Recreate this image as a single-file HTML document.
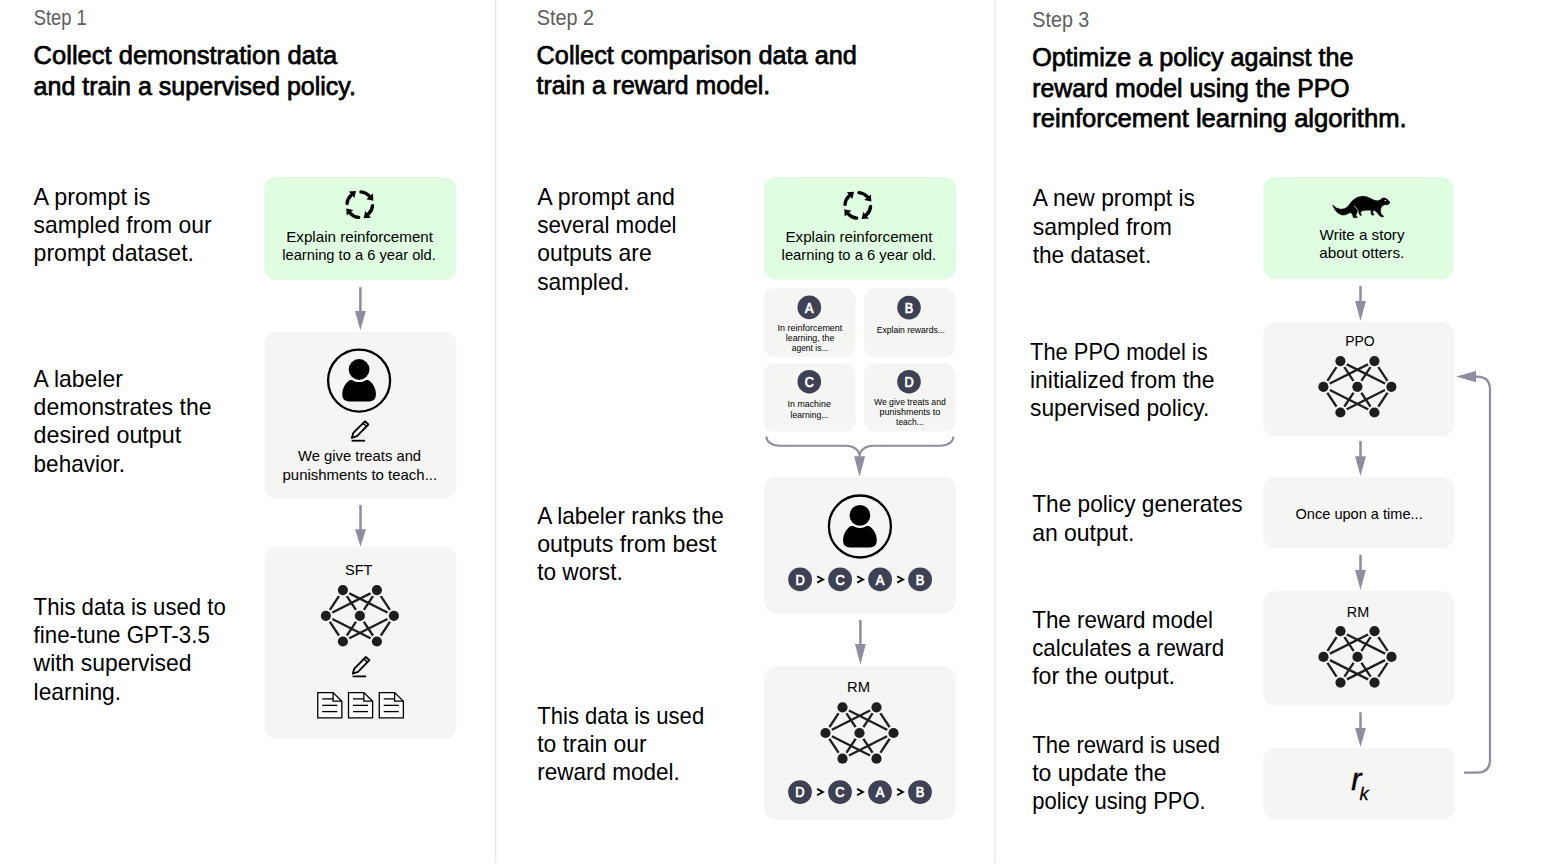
<!DOCTYPE html><html><head><meta charset="utf-8"><title>ChatGPT training diagram</title><style>html,body{margin:0;padding:0;background:#fff;overflow:hidden}svg{display:block}text{font-family:"Liberation Sans",sans-serif}</style></head><body>
<svg width="1563" height="865" viewBox="0 0 1563 865">
<rect width="1563" height="865" fill="#fff"/>
<rect x="494.8" y="0" width="1.5" height="863" fill="#e6e6e6"/>
<rect x="994.1" y="0" width="1.8" height="863" fill="#ececec"/>
<text x="33.80" y="24.90" font-size="21.5" fill="#5e5e5e" textLength="53.00" lengthAdjust="spacingAndGlyphs">Step 1</text>
<text x="536.80" y="25.00" font-size="21.5" fill="#5e5e5e" textLength="57.30" lengthAdjust="spacingAndGlyphs">Step 2</text>
<text x="1032.30" y="26.80" font-size="21.5" fill="#5e5e5e" textLength="57.00" lengthAdjust="spacingAndGlyphs">Step 3</text>
<text x="33.60" y="64.20" font-size="26.5" textLength="303.60" lengthAdjust="spacingAndGlyphs" stroke="#000" stroke-width="0.75">Collect demonstration data</text>
<text x="33.60" y="94.80" font-size="26.5" textLength="322.40" lengthAdjust="spacingAndGlyphs" stroke="#000" stroke-width="0.75">and train a supervised policy.</text>
<text x="536.60" y="63.80" font-size="26.5" textLength="320.20" lengthAdjust="spacingAndGlyphs" stroke="#000" stroke-width="0.75">Collect comparison data and</text>
<text x="536.60" y="94.00" font-size="26.5" textLength="233.60" lengthAdjust="spacingAndGlyphs" stroke="#000" stroke-width="0.75">train a reward model.</text>
<text x="1032.20" y="66.00" font-size="26.5" textLength="321.20" lengthAdjust="spacingAndGlyphs" stroke="#000" stroke-width="0.75">Optimize a policy against the</text>
<text x="1032.20" y="97.20" font-size="26.5" textLength="317.40" lengthAdjust="spacingAndGlyphs" stroke="#000" stroke-width="0.75">reward model using the PPO</text>
<text x="1032.20" y="127.40" font-size="26.5" textLength="374.40" lengthAdjust="spacingAndGlyphs" stroke="#000" stroke-width="0.75">reinforcement learning algorithm.</text>
<text x="33.60" y="205.00" font-size="23.4" textLength="116.70" lengthAdjust="spacingAndGlyphs">A prompt is</text>
<text x="33.60" y="233.20" font-size="23.4" textLength="177.90" lengthAdjust="spacingAndGlyphs">sampled from our</text>
<text x="33.60" y="261.40" font-size="23.4" textLength="160.40" lengthAdjust="spacingAndGlyphs">prompt dataset.</text>
<text x="33.60" y="386.70" font-size="23.4" textLength="89.20" lengthAdjust="spacingAndGlyphs">A labeler</text>
<text x="33.60" y="414.90" font-size="23.4" textLength="177.90" lengthAdjust="spacingAndGlyphs">demonstrates the</text>
<text x="33.60" y="443.00" font-size="23.4" textLength="147.60" lengthAdjust="spacingAndGlyphs">desired output</text>
<text x="33.60" y="471.50" font-size="23.4" textLength="91.40" lengthAdjust="spacingAndGlyphs">behavior.</text>
<text x="33.60" y="615.00" font-size="23.4" textLength="192.20" lengthAdjust="spacingAndGlyphs">This data is used to</text>
<text x="33.60" y="643.20" font-size="23.4" textLength="176.20" lengthAdjust="spacingAndGlyphs">fine-tune GPT-3.5</text>
<text x="33.60" y="671.40" font-size="23.4" textLength="157.90" lengthAdjust="spacingAndGlyphs">with supervised</text>
<text x="33.60" y="699.50" font-size="23.4" textLength="87.50" lengthAdjust="spacingAndGlyphs">learning.</text>
<text x="537.20" y="205.00" font-size="23.4" textLength="137.70" lengthAdjust="spacingAndGlyphs">A prompt and</text>
<text x="537.20" y="233.20" font-size="23.4" textLength="139.40" lengthAdjust="spacingAndGlyphs">several model</text>
<text x="537.20" y="261.40" font-size="23.4" textLength="114.50" lengthAdjust="spacingAndGlyphs">outputs are</text>
<text x="537.20" y="289.50" font-size="23.4" textLength="92.40" lengthAdjust="spacingAndGlyphs">sampled.</text>
<text x="537.20" y="523.90" font-size="23.4" textLength="186.70" lengthAdjust="spacingAndGlyphs">A labeler ranks the</text>
<text x="537.20" y="552.00" font-size="23.4" textLength="179.20" lengthAdjust="spacingAndGlyphs">outputs from best</text>
<text x="537.20" y="580.20" font-size="23.4" textLength="85.60" lengthAdjust="spacingAndGlyphs">to worst.</text>
<text x="537.20" y="723.90" font-size="23.4" textLength="167.00" lengthAdjust="spacingAndGlyphs">This data is used</text>
<text x="537.20" y="752.00" font-size="23.4" textLength="109.50" lengthAdjust="spacingAndGlyphs">to train our</text>
<text x="537.20" y="780.20" font-size="23.4" textLength="142.60" lengthAdjust="spacingAndGlyphs">reward model.</text>
<text x="1032.70" y="206.40" font-size="23.4" textLength="162.30" lengthAdjust="spacingAndGlyphs">A new prompt is</text>
<text x="1032.70" y="234.50" font-size="23.4" textLength="139.20" lengthAdjust="spacingAndGlyphs">sampled from</text>
<text x="1032.70" y="262.60" font-size="23.4" textLength="118.50" lengthAdjust="spacingAndGlyphs">the dataset.</text>
<text x="1030.00" y="359.60" font-size="23.4" textLength="177.70" lengthAdjust="spacingAndGlyphs">The PPO model is</text>
<text x="1030.00" y="388.00" font-size="23.4" textLength="184.50" lengthAdjust="spacingAndGlyphs">initialized from the</text>
<text x="1030.00" y="416.10" font-size="23.4" textLength="179.30" lengthAdjust="spacingAndGlyphs">supervised policy.</text>
<text x="1032.20" y="512.30" font-size="23.4" textLength="210.50" lengthAdjust="spacingAndGlyphs">The policy generates</text>
<text x="1032.20" y="540.60" font-size="23.4" textLength="102.10" lengthAdjust="spacingAndGlyphs">an output.</text>
<text x="1032.20" y="627.60" font-size="23.4" textLength="180.70" lengthAdjust="spacingAndGlyphs">The reward model</text>
<text x="1032.20" y="655.60" font-size="23.4" textLength="192.00" lengthAdjust="spacingAndGlyphs">calculates a reward</text>
<text x="1032.20" y="683.70" font-size="23.4" textLength="142.80" lengthAdjust="spacingAndGlyphs">for the output.</text>
<text x="1032.20" y="753.00" font-size="23.4" textLength="187.90" lengthAdjust="spacingAndGlyphs">The reward is used</text>
<text x="1032.20" y="781.00" font-size="23.4" textLength="134.40" lengthAdjust="spacingAndGlyphs">to update the</text>
<text x="1032.20" y="809.20" font-size="23.4" textLength="173.50" lengthAdjust="spacingAndGlyphs">policy using PPO.</text>
<rect x="264.20" y="177.00" width="192.30" height="102.80" rx="12" fill="#dffde1"/>
<g transform="translate(359.8,204.6)">
<g transform="rotate(0)">
<path d="M1.12,-12.75 A12.8,12.8 0 0 1 9.42,-8.69" fill="none" stroke="#000" stroke-width="3.4" stroke-linecap="round"/>
<path d="M13.10,-10.99 L13.53,-3.78 L6.51,-5.46 Z" fill="#000"/>
</g>
<g transform="rotate(90)">
<path d="M1.12,-12.75 A12.8,12.8 0 0 1 9.42,-8.69" fill="none" stroke="#000" stroke-width="3.4" stroke-linecap="round"/>
<path d="M13.10,-10.99 L13.53,-3.78 L6.51,-5.46 Z" fill="#000"/>
</g>
<g transform="rotate(180)">
<path d="M1.12,-12.75 A12.8,12.8 0 0 1 9.42,-8.69" fill="none" stroke="#000" stroke-width="3.4" stroke-linecap="round"/>
<path d="M13.10,-10.99 L13.53,-3.78 L6.51,-5.46 Z" fill="#000"/>
</g>
<g transform="rotate(270)">
<path d="M1.12,-12.75 A12.8,12.8 0 0 1 9.42,-8.69" fill="none" stroke="#000" stroke-width="3.4" stroke-linecap="round"/>
<path d="M13.10,-10.99 L13.53,-3.78 L6.51,-5.46 Z" fill="#000"/>
</g>
</g>
<text x="286.20" y="242.20" font-size="15.0" textLength="146.80" lengthAdjust="spacingAndGlyphs">Explain reinforcement</text>
<text x="282.20" y="259.70" font-size="15.0" textLength="153.70" lengthAdjust="spacingAndGlyphs">learning to a 6 year old.</text>
<line x1="360.4" y1="287.2" x2="360.4" y2="312.1" stroke="#8e8da2" stroke-width="2.5"/>
<path d="M355.0,311.1 L365.79999999999995,311.1 L360.4,330.6 Z" fill="#8e8da2"/>
<rect x="264.20" y="332.00" width="192.30" height="166.30" rx="12" fill="#f5f5f3"/>
<circle cx="359.1" cy="380.6" r="31" fill="none" stroke="#000" stroke-width="2.3"/>
<path d="M350.1,380.1 C345.6,382.6 342.3,388.1 342.3,394.6 C342.3,400.6 346.1,401.6 351.1,401.6 L367.1,401.6 C372.1,401.6 375.90000000000003,400.6 375.90000000000003,394.6 C375.90000000000003,388.1 372.6,382.6 368.1,380.1 Z" fill="#000"/>
<circle cx="359.1" cy="369.5" r="12.6" fill="#f5f5f3"/>
<circle cx="359.1" cy="369.5" r="10.4" fill="#000"/>
<path d="M351.80,437.90 L353.30,432.90 L364.90,421.30 L368.40,424.50 L357.00,436.20 Z" fill="none" stroke="#000" stroke-width="1.85" stroke-linejoin="round"/>
<line x1="363.00" y1="423.20" x2="366.40" y2="426.50" stroke="#000" stroke-width="1.4"/>
<line x1="351.60" y1="440.70" x2="365.10" y2="440.70" stroke="#000" stroke-width="1.8"/>
<text x="298.10" y="461.40" font-size="15.0" textLength="123.00" lengthAdjust="spacingAndGlyphs">We give treats and</text>
<text x="282.50" y="479.60" font-size="15.0" textLength="154.60" lengthAdjust="spacingAndGlyphs">punishments to teach...</text>
<line x1="360.5" y1="504.9" x2="360.5" y2="530.2" stroke="#8e8da2" stroke-width="2.5"/>
<path d="M355.1,529.2 L365.9,529.2 L360.5,546.8 Z" fill="#8e8da2"/>
<rect x="264.20" y="546.70" width="192.30" height="192.10" rx="12" fill="#f5f5f3"/>
<text x="345.00" y="575.20" font-size="15.5" textLength="27.40" lengthAdjust="spacingAndGlyphs">SFT</text>
<g>
<line x1="342.90" y1="590.10" x2="325.90" y2="615.80" stroke="#1e1e1e" stroke-width="2.3"/>
<line x1="342.90" y1="590.10" x2="359.90" y2="615.80" stroke="#1e1e1e" stroke-width="2.3"/>
<line x1="342.90" y1="590.10" x2="393.90" y2="615.80" stroke="#1e1e1e" stroke-width="2.3"/>
<line x1="376.90" y1="590.10" x2="325.90" y2="615.80" stroke="#1e1e1e" stroke-width="2.3"/>
<line x1="376.90" y1="590.10" x2="359.90" y2="615.80" stroke="#1e1e1e" stroke-width="2.3"/>
<line x1="376.90" y1="590.10" x2="393.90" y2="615.80" stroke="#1e1e1e" stroke-width="2.3"/>
<line x1="325.90" y1="615.80" x2="342.90" y2="641.50" stroke="#1e1e1e" stroke-width="2.3"/>
<line x1="325.90" y1="615.80" x2="376.90" y2="641.50" stroke="#1e1e1e" stroke-width="2.3"/>
<line x1="359.90" y1="615.80" x2="342.90" y2="641.50" stroke="#1e1e1e" stroke-width="2.3"/>
<line x1="359.90" y1="615.80" x2="376.90" y2="641.50" stroke="#1e1e1e" stroke-width="2.3"/>
<line x1="393.90" y1="615.80" x2="342.90" y2="641.50" stroke="#1e1e1e" stroke-width="2.3"/>
<line x1="393.90" y1="615.80" x2="376.90" y2="641.50" stroke="#1e1e1e" stroke-width="2.3"/>
<circle cx="342.90" cy="590.10" r="7.2" fill="#f5f5f3"/>
<circle cx="342.90" cy="590.10" r="5.1" fill="#1e1e1e"/>
<circle cx="376.90" cy="590.10" r="7.2" fill="#f5f5f3"/>
<circle cx="376.90" cy="590.10" r="5.1" fill="#1e1e1e"/>
<circle cx="325.90" cy="615.80" r="7.2" fill="#f5f5f3"/>
<circle cx="325.90" cy="615.80" r="5.1" fill="#1e1e1e"/>
<circle cx="359.90" cy="615.80" r="7.2" fill="#f5f5f3"/>
<circle cx="359.90" cy="615.80" r="5.1" fill="#1e1e1e"/>
<circle cx="393.90" cy="615.80" r="7.2" fill="#f5f5f3"/>
<circle cx="393.90" cy="615.80" r="5.1" fill="#1e1e1e"/>
<circle cx="342.90" cy="641.50" r="7.2" fill="#f5f5f3"/>
<circle cx="342.90" cy="641.50" r="5.1" fill="#1e1e1e"/>
<circle cx="376.90" cy="641.50" r="7.2" fill="#f5f5f3"/>
<circle cx="376.90" cy="641.50" r="5.1" fill="#1e1e1e"/>
</g>
<path d="M352.80,673.60 L354.30,668.60 L365.90,657.00 L369.40,660.20 L358.00,671.90 Z" fill="none" stroke="#000" stroke-width="1.85" stroke-linejoin="round"/>
<line x1="364.00" y1="658.90" x2="367.40" y2="662.20" stroke="#000" stroke-width="1.4"/>
<line x1="352.60" y1="676.40" x2="366.10" y2="676.40" stroke="#000" stroke-width="1.8"/>
<path d="M317.75,692.55 L333.1,692.55 L341.85,701.1999999999999 L341.85,717.85 L317.75,717.85 Z" fill="#fbfbfb" stroke="#000" stroke-width="1.3" stroke-linejoin="miter"/>
<path d="M333.1,692.55 L333.1,701.1999999999999 L341.85,701.1999999999999" fill="none" stroke="#000" stroke-width="1.3"/>
<line x1="322.20000000000005" y1="698.9" x2="333.1" y2="698.9" stroke="#000" stroke-width="1.3"/>
<line x1="322.20000000000005" y1="705.35" x2="337.3" y2="705.35" stroke="#000" stroke-width="1.3"/>
<line x1="322.20000000000005" y1="711.6" x2="337.3" y2="711.6" stroke="#000" stroke-width="1.3"/>
<path d="M348.51,692.55 L363.86,692.55 L372.61,701.1999999999999 L372.61,717.85 L348.51,717.85 Z" fill="#fbfbfb" stroke="#000" stroke-width="1.3" stroke-linejoin="miter"/>
<path d="M363.86,692.55 L363.86,701.1999999999999 L372.61,701.1999999999999" fill="none" stroke="#000" stroke-width="1.3"/>
<line x1="352.96000000000004" y1="698.9" x2="363.86" y2="698.9" stroke="#000" stroke-width="1.3"/>
<line x1="352.96000000000004" y1="705.35" x2="368.06" y2="705.35" stroke="#000" stroke-width="1.3"/>
<line x1="352.96000000000004" y1="711.6" x2="368.06" y2="711.6" stroke="#000" stroke-width="1.3"/>
<path d="M379.27,692.55 L394.62,692.55 L403.37,701.1999999999999 L403.37,717.85 L379.27,717.85 Z" fill="#fbfbfb" stroke="#000" stroke-width="1.3" stroke-linejoin="miter"/>
<path d="M394.62,692.55 L394.62,701.1999999999999 L403.37,701.1999999999999" fill="none" stroke="#000" stroke-width="1.3"/>
<line x1="383.72" y1="698.9" x2="394.62" y2="698.9" stroke="#000" stroke-width="1.3"/>
<line x1="383.72" y1="705.35" x2="398.82" y2="705.35" stroke="#000" stroke-width="1.3"/>
<line x1="383.72" y1="711.6" x2="398.82" y2="711.6" stroke="#000" stroke-width="1.3"/>
<rect x="764.20" y="177.00" width="191.80" height="102.50" rx="12" fill="#dffde1"/>
<g transform="translate(857.8,205.4)">
<g transform="rotate(0)">
<path d="M1.12,-12.75 A12.8,12.8 0 0 1 9.42,-8.69" fill="none" stroke="#000" stroke-width="3.4" stroke-linecap="round"/>
<path d="M13.10,-10.99 L13.53,-3.78 L6.51,-5.46 Z" fill="#000"/>
</g>
<g transform="rotate(90)">
<path d="M1.12,-12.75 A12.8,12.8 0 0 1 9.42,-8.69" fill="none" stroke="#000" stroke-width="3.4" stroke-linecap="round"/>
<path d="M13.10,-10.99 L13.53,-3.78 L6.51,-5.46 Z" fill="#000"/>
</g>
<g transform="rotate(180)">
<path d="M1.12,-12.75 A12.8,12.8 0 0 1 9.42,-8.69" fill="none" stroke="#000" stroke-width="3.4" stroke-linecap="round"/>
<path d="M13.10,-10.99 L13.53,-3.78 L6.51,-5.46 Z" fill="#000"/>
</g>
<g transform="rotate(270)">
<path d="M1.12,-12.75 A12.8,12.8 0 0 1 9.42,-8.69" fill="none" stroke="#000" stroke-width="3.4" stroke-linecap="round"/>
<path d="M13.10,-10.99 L13.53,-3.78 L6.51,-5.46 Z" fill="#000"/>
</g>
</g>
<text x="785.40" y="242.20" font-size="15.0" textLength="147.00" lengthAdjust="spacingAndGlyphs">Explain reinforcement</text>
<text x="781.60" y="259.70" font-size="15.0" textLength="154.40" lengthAdjust="spacingAndGlyphs">learning to a 6 year old.</text>
<rect x="763.70" y="288.30" width="92.00" height="69.00" rx="11" fill="#f5f5f3"/>
<rect x="864.00" y="288.30" width="91.60" height="69.00" rx="11" fill="#f5f5f3"/>
<rect x="763.70" y="363.20" width="92.00" height="68.40" rx="11" fill="#f5f5f3"/>
<rect x="864.00" y="363.20" width="91.60" height="68.40" rx="11" fill="#f5f5f3"/>
<circle cx="809.3" cy="307.4" r="11.8" fill="#3e4154"/>
<g transform="translate(809.3,312.5) scale(0.88,1)"><text x="0" y="0" font-size="14.4" fill="#fff" text-anchor="middle" stroke="#fff" stroke-width="0.75">A</text></g>
<circle cx="909.0" cy="307.6" r="11.8" fill="#3e4154"/>
<g transform="translate(909.0,312.70000000000005) scale(0.88,1)"><text x="0" y="0" font-size="14.4" fill="#fff" text-anchor="middle" stroke="#fff" stroke-width="0.75">B</text></g>
<circle cx="809.3" cy="381.7" r="11.8" fill="#3e4154"/>
<g transform="translate(809.3,386.8) scale(0.88,1)"><text x="0" y="0" font-size="14.4" fill="#fff" text-anchor="middle" stroke="#fff" stroke-width="0.75">C</text></g>
<circle cx="909.0" cy="381.7" r="11.8" fill="#3e4154"/>
<g transform="translate(909.0,386.8) scale(0.88,1)"><text x="0" y="0" font-size="14.4" fill="#fff" text-anchor="middle" stroke="#fff" stroke-width="0.75">D</text></g>
<text x="777.60" y="330.60" font-size="9.0" textLength="64.70" lengthAdjust="spacingAndGlyphs">In reinforcement</text>
<text x="785.80" y="340.60" font-size="9.0" textLength="48.60" lengthAdjust="spacingAndGlyphs">learning, the</text>
<text x="791.70" y="350.60" font-size="9.0" textLength="36.80" lengthAdjust="spacingAndGlyphs">agent is...</text>
<text x="876.70" y="333.00" font-size="9.0" textLength="68.20" lengthAdjust="spacingAndGlyphs">Explain rewards...</text>
<text x="787.60" y="407.40" font-size="9.0" textLength="43.20" lengthAdjust="spacingAndGlyphs">In machine</text>
<text x="790.60" y="417.60" font-size="9.0" textLength="37.90" lengthAdjust="spacingAndGlyphs">learning...</text>
<text x="873.90" y="404.80" font-size="9.0" textLength="71.90" lengthAdjust="spacingAndGlyphs">We give treats and</text>
<text x="879.50" y="415.00" font-size="9.0" textLength="60.80" lengthAdjust="spacingAndGlyphs">punishments to</text>
<text x="896.10" y="425.20" font-size="9.0" textLength="27.50" lengthAdjust="spacingAndGlyphs">teach...</text>
<path d="M766.4,436.5 C766.6,442 772,445.8 779,445.8 L846.4,445.8 C853,445.8 859.6,450 859.6,456.5 C859.6,450 866,445.8 873,445.8 L940.6,445.8 C947.6,445.8 953.2,442 953.4,436.5" fill="none" stroke="#8e8da2" stroke-width="2.1"/>
<path d="M854.1,456.2 L865.1,456.2 L859.6,476.7 Z" fill="#8e8da2"/>
<rect x="764.10" y="476.70" width="191.80" height="136.80" rx="12" fill="#f5f5f3"/>
<circle cx="859.9" cy="526.5" r="31" fill="none" stroke="#000" stroke-width="2.3"/>
<path d="M850.9,526.0 C846.4,528.5 843.1,534.0 843.1,540.5 C843.1,546.5 846.9,547.5 851.9,547.5 L867.9,547.5 C872.9,547.5 876.6999999999999,546.5 876.6999999999999,540.5 C876.6999999999999,534.0 873.4,528.5 868.9,526.0 Z" fill="#000"/>
<circle cx="859.9" cy="515.4" r="12.6" fill="#f5f5f3"/>
<circle cx="859.9" cy="515.4" r="10.4" fill="#000"/>
<circle cx="800.1" cy="579.4" r="11.9" fill="#3e4154"/>
<g transform="translate(800.1,584.5) scale(0.88,1)"><text x="0" y="0" font-size="14.6" fill="#fff" text-anchor="middle" stroke="#fff" stroke-width="0.75">D</text></g>
<circle cx="840.1" cy="579.4" r="11.9" fill="#3e4154"/>
<g transform="translate(840.1,584.5) scale(0.88,1)"><text x="0" y="0" font-size="14.6" fill="#fff" text-anchor="middle" stroke="#fff" stroke-width="0.75">C</text></g>
<circle cx="880.1" cy="579.4" r="11.9" fill="#3e4154"/>
<g transform="translate(880.1,584.5) scale(0.88,1)"><text x="0" y="0" font-size="14.6" fill="#fff" text-anchor="middle" stroke="#fff" stroke-width="0.75">A</text></g>
<circle cx="920.1" cy="579.4" r="11.9" fill="#3e4154"/>
<g transform="translate(920.1,584.5) scale(0.88,1)"><text x="0" y="0" font-size="14.6" fill="#fff" text-anchor="middle" stroke="#fff" stroke-width="0.75">B</text></g>
<path d="M817.2,576.1999999999999 L823.1,579.4 L817.2,582.6" fill="none" stroke="#000" stroke-width="1.8"/>
<path d="M857.2,576.1999999999999 L863.1,579.4 L857.2,582.6" fill="none" stroke="#000" stroke-width="1.8"/>
<path d="M897.2,576.1999999999999 L903.1,579.4 L897.2,582.6" fill="none" stroke="#000" stroke-width="1.8"/>
<line x1="860.4" y1="620.0" x2="860.4" y2="645.1" stroke="#8e8da2" stroke-width="2.5"/>
<path d="M855.0,644.1 L865.8,644.1 L860.4,664.7 Z" fill="#8e8da2"/>
<rect x="764.10" y="665.90" width="191.70" height="153.90" rx="12" fill="#f5f5f3"/>
<text x="847.10" y="692.00" font-size="15.5" textLength="23.00" lengthAdjust="spacingAndGlyphs">RM</text>
<g>
<line x1="842.50" y1="707.30" x2="825.50" y2="733.00" stroke="#1e1e1e" stroke-width="2.3"/>
<line x1="842.50" y1="707.30" x2="859.50" y2="733.00" stroke="#1e1e1e" stroke-width="2.3"/>
<line x1="842.50" y1="707.30" x2="893.50" y2="733.00" stroke="#1e1e1e" stroke-width="2.3"/>
<line x1="876.50" y1="707.30" x2="825.50" y2="733.00" stroke="#1e1e1e" stroke-width="2.3"/>
<line x1="876.50" y1="707.30" x2="859.50" y2="733.00" stroke="#1e1e1e" stroke-width="2.3"/>
<line x1="876.50" y1="707.30" x2="893.50" y2="733.00" stroke="#1e1e1e" stroke-width="2.3"/>
<line x1="825.50" y1="733.00" x2="842.50" y2="758.70" stroke="#1e1e1e" stroke-width="2.3"/>
<line x1="825.50" y1="733.00" x2="876.50" y2="758.70" stroke="#1e1e1e" stroke-width="2.3"/>
<line x1="859.50" y1="733.00" x2="842.50" y2="758.70" stroke="#1e1e1e" stroke-width="2.3"/>
<line x1="859.50" y1="733.00" x2="876.50" y2="758.70" stroke="#1e1e1e" stroke-width="2.3"/>
<line x1="893.50" y1="733.00" x2="842.50" y2="758.70" stroke="#1e1e1e" stroke-width="2.3"/>
<line x1="893.50" y1="733.00" x2="876.50" y2="758.70" stroke="#1e1e1e" stroke-width="2.3"/>
<circle cx="842.50" cy="707.30" r="7.2" fill="#f5f5f3"/>
<circle cx="842.50" cy="707.30" r="5.1" fill="#1e1e1e"/>
<circle cx="876.50" cy="707.30" r="7.2" fill="#f5f5f3"/>
<circle cx="876.50" cy="707.30" r="5.1" fill="#1e1e1e"/>
<circle cx="825.50" cy="733.00" r="7.2" fill="#f5f5f3"/>
<circle cx="825.50" cy="733.00" r="5.1" fill="#1e1e1e"/>
<circle cx="859.50" cy="733.00" r="7.2" fill="#f5f5f3"/>
<circle cx="859.50" cy="733.00" r="5.1" fill="#1e1e1e"/>
<circle cx="893.50" cy="733.00" r="7.2" fill="#f5f5f3"/>
<circle cx="893.50" cy="733.00" r="5.1" fill="#1e1e1e"/>
<circle cx="842.50" cy="758.70" r="7.2" fill="#f5f5f3"/>
<circle cx="842.50" cy="758.70" r="5.1" fill="#1e1e1e"/>
<circle cx="876.50" cy="758.70" r="7.2" fill="#f5f5f3"/>
<circle cx="876.50" cy="758.70" r="5.1" fill="#1e1e1e"/>
</g>
<circle cx="800.0" cy="792.1" r="11.9" fill="#3e4154"/>
<g transform="translate(800.0,797.2) scale(0.88,1)"><text x="0" y="0" font-size="14.6" fill="#fff" text-anchor="middle" stroke="#fff" stroke-width="0.75">D</text></g>
<circle cx="840.0" cy="792.1" r="11.9" fill="#3e4154"/>
<g transform="translate(840.0,797.2) scale(0.88,1)"><text x="0" y="0" font-size="14.6" fill="#fff" text-anchor="middle" stroke="#fff" stroke-width="0.75">C</text></g>
<circle cx="880.0" cy="792.1" r="11.9" fill="#3e4154"/>
<g transform="translate(880.0,797.2) scale(0.88,1)"><text x="0" y="0" font-size="14.6" fill="#fff" text-anchor="middle" stroke="#fff" stroke-width="0.75">A</text></g>
<circle cx="920.0" cy="792.1" r="11.9" fill="#3e4154"/>
<g transform="translate(920.0,797.2) scale(0.88,1)"><text x="0" y="0" font-size="14.6" fill="#fff" text-anchor="middle" stroke="#fff" stroke-width="0.75">B</text></g>
<path d="M817.1,788.9 L823.0,792.1 L817.1,795.3000000000001" fill="none" stroke="#000" stroke-width="1.8"/>
<path d="M857.1,788.9 L863.0,792.1 L857.1,795.3000000000001" fill="none" stroke="#000" stroke-width="1.8"/>
<path d="M897.1,788.9 L903.0,792.1 L897.1,795.3000000000001" fill="none" stroke="#000" stroke-width="1.8"/>
<rect x="1263.30" y="177.00" width="190.70" height="102.30" rx="12" fill="#dffde1"/>
<path d="M1332.43,205.09 L1336.45,207.96 L1340.67,209.23 L1344.89,208.55 L1347.85,206.44 L1350.38,203.06 L1352.92,200.23 L1356.72,197.57 L1361.78,196.22 L1366.01,196.56 L1370.23,198.25 L1374.45,200.28 L1377.41,200.87 L1380.15,199.94 L1381.42,198.76 L1382.90,198.04 L1384.80,198.00 L1386.91,198.97 L1388.60,200.66 L1389.99,202.35 L1389.02,203.82 L1387.54,204.75 L1384.59,204.75 L1382.27,205.94 L1380.87,208.05 L1380.45,211.00 L1381.12,213.75 L1382.69,215.44 L1383.83,216.28 L1383.11,217.00 L1380.79,216.58 L1379.10,215.31 L1377.62,213.11 L1375.51,211.21 L1374.03,210.24 L1373.10,210.58 L1372.76,212.27 L1373.40,213.75 L1374.24,214.80 L1372.34,215.31 L1371.07,213.96 L1370.99,211.85 L1371.16,210.24 L1370.23,210.16 L1366.01,210.16 L1362.21,210.79 L1360.73,212.19 L1360.52,213.96 L1361.78,215.02 L1360.31,215.44 L1359.25,213.96 L1358.74,211.85 L1358.19,210.58 L1357.14,212.27 L1356.08,214.80 L1356.21,216.28 L1357.77,217.25 L1355.45,217.76 L1353.13,217.55 L1352.70,215.02 L1351.44,213.33 L1350.17,212.61 L1348.27,213.54 L1345.74,214.80 L1341.94,215.02 L1338.14,213.33 L1335.18,210.16 Z" fill="#000" stroke="#000" stroke-width="0.5" stroke-linejoin="round"/>
<path d="M1354.18,206.15 Q1357.56,208.47 1358.32,211.21" fill="none" stroke="#dffde1" stroke-width="0.7"/>
<circle cx="1385.31" cy="200.45" r="0.8" fill="#dffde1"/>
<text x="1319.60" y="239.80" font-size="15.0" textLength="84.90" lengthAdjust="spacingAndGlyphs">Write a story</text>
<text x="1319.30" y="257.60" font-size="15.0" textLength="85.00" lengthAdjust="spacingAndGlyphs">about otters.</text>
<line x1="1360.5" y1="286.0" x2="1360.5" y2="302.1" stroke="#8e8da2" stroke-width="2.5"/>
<path d="M1355.1,301.1 L1365.9,301.1 L1360.5,321.1 Z" fill="#8e8da2"/>
<rect x="1263.30" y="322.20" width="190.70" height="114.10" rx="12" fill="#f5f5f3"/>
<text x="1345.30" y="345.80" font-size="15.5" textLength="29.40" lengthAdjust="spacingAndGlyphs">PPO</text>
<g>
<line x1="1340.40" y1="361.10" x2="1323.40" y2="386.80" stroke="#1e1e1e" stroke-width="2.3"/>
<line x1="1340.40" y1="361.10" x2="1357.40" y2="386.80" stroke="#1e1e1e" stroke-width="2.3"/>
<line x1="1340.40" y1="361.10" x2="1391.40" y2="386.80" stroke="#1e1e1e" stroke-width="2.3"/>
<line x1="1374.40" y1="361.10" x2="1323.40" y2="386.80" stroke="#1e1e1e" stroke-width="2.3"/>
<line x1="1374.40" y1="361.10" x2="1357.40" y2="386.80" stroke="#1e1e1e" stroke-width="2.3"/>
<line x1="1374.40" y1="361.10" x2="1391.40" y2="386.80" stroke="#1e1e1e" stroke-width="2.3"/>
<line x1="1323.40" y1="386.80" x2="1340.40" y2="412.50" stroke="#1e1e1e" stroke-width="2.3"/>
<line x1="1323.40" y1="386.80" x2="1374.40" y2="412.50" stroke="#1e1e1e" stroke-width="2.3"/>
<line x1="1357.40" y1="386.80" x2="1340.40" y2="412.50" stroke="#1e1e1e" stroke-width="2.3"/>
<line x1="1357.40" y1="386.80" x2="1374.40" y2="412.50" stroke="#1e1e1e" stroke-width="2.3"/>
<line x1="1391.40" y1="386.80" x2="1340.40" y2="412.50" stroke="#1e1e1e" stroke-width="2.3"/>
<line x1="1391.40" y1="386.80" x2="1374.40" y2="412.50" stroke="#1e1e1e" stroke-width="2.3"/>
<circle cx="1340.40" cy="361.10" r="7.2" fill="#f5f5f3"/>
<circle cx="1340.40" cy="361.10" r="5.1" fill="#1e1e1e"/>
<circle cx="1374.40" cy="361.10" r="7.2" fill="#f5f5f3"/>
<circle cx="1374.40" cy="361.10" r="5.1" fill="#1e1e1e"/>
<circle cx="1323.40" cy="386.80" r="7.2" fill="#f5f5f3"/>
<circle cx="1323.40" cy="386.80" r="5.1" fill="#1e1e1e"/>
<circle cx="1357.40" cy="386.80" r="7.2" fill="#f5f5f3"/>
<circle cx="1357.40" cy="386.80" r="5.1" fill="#1e1e1e"/>
<circle cx="1391.40" cy="386.80" r="7.2" fill="#f5f5f3"/>
<circle cx="1391.40" cy="386.80" r="5.1" fill="#1e1e1e"/>
<circle cx="1340.40" cy="412.50" r="7.2" fill="#f5f5f3"/>
<circle cx="1340.40" cy="412.50" r="5.1" fill="#1e1e1e"/>
<circle cx="1374.40" cy="412.50" r="7.2" fill="#f5f5f3"/>
<circle cx="1374.40" cy="412.50" r="5.1" fill="#1e1e1e"/>
</g>
<line x1="1360.5" y1="440.9" x2="1360.5" y2="457.3" stroke="#8e8da2" stroke-width="2.5"/>
<path d="M1355.1,456.3 L1365.9,456.3 L1360.5,476.0 Z" fill="#8e8da2"/>
<rect x="1263.30" y="476.70" width="190.70" height="71.30" rx="12" fill="#f5f5f3"/>
<text x="1295.50" y="518.80" font-size="15.0" textLength="127.20" lengthAdjust="spacingAndGlyphs">Once upon a time...</text>
<line x1="1360.5" y1="554.8" x2="1360.5" y2="571.1" stroke="#8e8da2" stroke-width="2.5"/>
<path d="M1355.1,570.1 L1365.9,570.1 L1360.5,589.9 Z" fill="#8e8da2"/>
<rect x="1263.30" y="591.30" width="190.70" height="114.40" rx="12" fill="#f5f5f3"/>
<text x="1346.80" y="617.20" font-size="15.5" textLength="22.40" lengthAdjust="spacingAndGlyphs">RM</text>
<g>
<line x1="1340.50" y1="631.20" x2="1323.50" y2="656.90" stroke="#1e1e1e" stroke-width="2.3"/>
<line x1="1340.50" y1="631.20" x2="1357.50" y2="656.90" stroke="#1e1e1e" stroke-width="2.3"/>
<line x1="1340.50" y1="631.20" x2="1391.50" y2="656.90" stroke="#1e1e1e" stroke-width="2.3"/>
<line x1="1374.50" y1="631.20" x2="1323.50" y2="656.90" stroke="#1e1e1e" stroke-width="2.3"/>
<line x1="1374.50" y1="631.20" x2="1357.50" y2="656.90" stroke="#1e1e1e" stroke-width="2.3"/>
<line x1="1374.50" y1="631.20" x2="1391.50" y2="656.90" stroke="#1e1e1e" stroke-width="2.3"/>
<line x1="1323.50" y1="656.90" x2="1340.50" y2="682.60" stroke="#1e1e1e" stroke-width="2.3"/>
<line x1="1323.50" y1="656.90" x2="1374.50" y2="682.60" stroke="#1e1e1e" stroke-width="2.3"/>
<line x1="1357.50" y1="656.90" x2="1340.50" y2="682.60" stroke="#1e1e1e" stroke-width="2.3"/>
<line x1="1357.50" y1="656.90" x2="1374.50" y2="682.60" stroke="#1e1e1e" stroke-width="2.3"/>
<line x1="1391.50" y1="656.90" x2="1340.50" y2="682.60" stroke="#1e1e1e" stroke-width="2.3"/>
<line x1="1391.50" y1="656.90" x2="1374.50" y2="682.60" stroke="#1e1e1e" stroke-width="2.3"/>
<circle cx="1340.50" cy="631.20" r="7.2" fill="#f5f5f3"/>
<circle cx="1340.50" cy="631.20" r="5.1" fill="#1e1e1e"/>
<circle cx="1374.50" cy="631.20" r="7.2" fill="#f5f5f3"/>
<circle cx="1374.50" cy="631.20" r="5.1" fill="#1e1e1e"/>
<circle cx="1323.50" cy="656.90" r="7.2" fill="#f5f5f3"/>
<circle cx="1323.50" cy="656.90" r="5.1" fill="#1e1e1e"/>
<circle cx="1357.50" cy="656.90" r="7.2" fill="#f5f5f3"/>
<circle cx="1357.50" cy="656.90" r="5.1" fill="#1e1e1e"/>
<circle cx="1391.50" cy="656.90" r="7.2" fill="#f5f5f3"/>
<circle cx="1391.50" cy="656.90" r="5.1" fill="#1e1e1e"/>
<circle cx="1340.50" cy="682.60" r="7.2" fill="#f5f5f3"/>
<circle cx="1340.50" cy="682.60" r="5.1" fill="#1e1e1e"/>
<circle cx="1374.50" cy="682.60" r="7.2" fill="#f5f5f3"/>
<circle cx="1374.50" cy="682.60" r="5.1" fill="#1e1e1e"/>
</g>
<line x1="1360.5" y1="712.3" x2="1360.5" y2="728.9" stroke="#8e8da2" stroke-width="2.5"/>
<path d="M1355.1,727.9 L1365.9,727.9 L1360.5,746.9 Z" fill="#8e8da2"/>
<rect x="1263.30" y="748.00" width="191.50" height="71.60" rx="12" fill="#f5f5f3"/>
<text x="1351.20" y="790.20" font-size="30.5" font-style="italic" stroke="#000" stroke-width="0.45">r</text>
<text x="1359.40" y="800.30" font-size="18.2" font-style="italic" stroke="#000" stroke-width="0.3">k</text>
<path d="M1464,772.6 L1477,772.6 Q1490,772.6 1490,759.6 L1490,389.6 Q1490,376.6 1477,376.6 L1475,376.6" fill="none" stroke="#8e8da2" stroke-width="2.2"/>
<path d="M1476,371 L1476,382.2 L1456.2,376.6 Z" fill="#8e8da2"/>
</svg></body></html>
